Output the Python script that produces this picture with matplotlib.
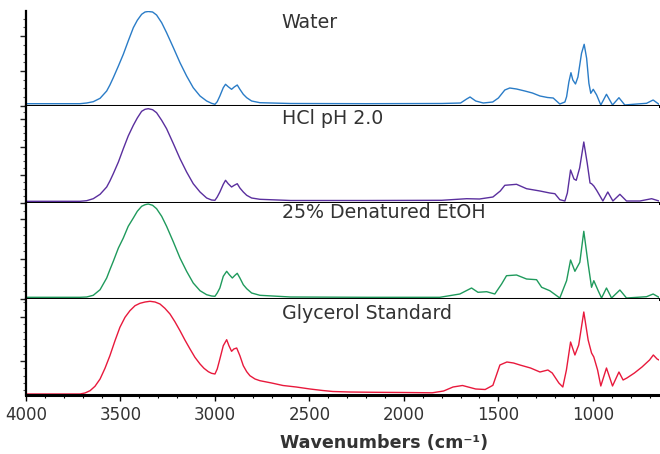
import matplotlib
matplotlib.use("Agg")
import matplotlib.pyplot as plt
from matplotlib.ticker import FixedLocator, MultipleLocator
import numpy as np

# ---- spectra (wavenumber in cm-1, absorbance in arbitrary units) ----
# O-H / C-H stretch region shares one wavenumber grid
oh_wn = [3714, 3679, 3644, 3608, 3573, 3556, 3538, 3511, 3485, 3459, 3432, 3411, 3388, 3370,
         3353, 3330, 3309, 3282, 3256, 3220, 3185, 3150, 3115, 3079, 3044, 3018, 3000, 2988,
         2974, 2956, 2944, 2930, 2912, 2898, 2882, 2868, 2850, 2832, 2806, 2762]

water_wn = [4000, 3850] + oh_wn + [
    2600, 2200, 1800, 1700, 1668, 1650, 1620, 1580, 1530, 1500, 1466, 1440, 1404, 1360,
    1320, 1280, 1240, 1210, 1175, 1148, 1139, 1127, 1116, 1106, 1092, 1079, 1060, 1046,
    1033, 1021, 1011, 998, 980, 958, 928, 896, 862, 831, 787, 716, 681, 650]
water_abs = [0.023, 0.023,
             0.023, 0.03, 0.043, 0.077, 0.15, 0.21, 0.283, 0.40, 0.517, 0.65, 0.783, 0.857,
             0.917, 0.94, 0.945, 0.94, 0.91, 0.833, 0.733, 0.583, 0.433, 0.30, 0.183, 0.10,
             0.05, 0.027, 0.017, 0.043, 0.10, 0.183, 0.217, 0.193, 0.167, 0.19, 0.21, 0.167,
             0.117, 0.083, 0.05, 0.033,
             0.025, 0.023, 0.025, 0.03, 0.07, 0.09, 0.05, 0.03, 0.04, 0.08, 0.16, 0.18, 0.17,
             0.15, 0.13, 0.10, 0.085, 0.08, 0.02, 0.04, 0.093, 0.24, 0.333, 0.26, 0.22, 0.29,
             0.527, 0.617, 0.477, 0.227, 0.127, 0.167, 0.11, 0.01, 0.117, 0.01, 0.083, 0.01,
             0.017, 0.027, 0.06, 0.017]

hcl_wn = [4000, 3800] + oh_wn + [
    2600, 2200, 1800, 1668, 1600, 1529, 1490, 1466, 1404, 1351, 1280, 1228, 1201, 1175,
    1148, 1135, 1118, 1100, 1088, 1070, 1048, 1030, 1015, 1007, 995, 980, 947, 921, 894,
    857, 822, 751, 689, 650]
hcl_abs = [0.017, 0.017,
           0.017, 0.023, 0.043, 0.087, 0.16, 0.22, 0.293, 0.41, 0.543, 0.67, 0.777, 0.85,
           0.917, 0.937, 0.943, 0.933, 0.903, 0.827, 0.743, 0.593, 0.443, 0.31, 0.193, 0.11,
           0.05, 0.03, 0.027, 0.06, 0.11, 0.187, 0.227, 0.193, 0.16, 0.177, 0.193, 0.15, 0.11,
           0.077, 0.05, 0.037,
           0.025, 0.025, 0.027, 0.043, 0.04, 0.06, 0.12, 0.177, 0.187, 0.143, 0.12, 0.10,
           0.093, 0.033, 0.02, 0.10, 0.33, 0.24, 0.227, 0.35, 0.61, 0.40, 0.20, 0.193, 0.17,
           0.127, 0.02, 0.11, 0.02, 0.087, 0.02, 0.02, 0.043, 0.02]

etoh_oh_wn = [3714, 3679, 3644, 3608, 3573, 3556, 3538, 3511, 3485, 3459, 3432, 3411, 3388,
              3370, 3353, 3330, 3309, 3282, 3256, 3220, 3185, 3150, 3115, 3079, 3044, 3018,
              3000, 2988, 2974, 2956, 2938, 2924, 2908, 2894, 2882, 2868, 2850, 2832, 2806,
              2762]
etoh_wn = [4000, 3800] + etoh_oh_wn + [
    2600, 2200, 1810, 1704, 1642, 1608, 1562, 1519, 1483, 1457, 1404, 1351, 1298, 1271,
    1228, 1175, 1139, 1118, 1095, 1069, 1048, 1025, 1007, 995, 972, 954, 928, 901, 857,
    822, 716, 681, 650]
etoh_abs = [0.017, 0.017,
            0.017, 0.02, 0.037, 0.093, 0.21, 0.293, 0.377, 0.51, 0.61, 0.727, 0.81, 0.877,
            0.927, 0.943, 0.95, 0.937, 0.903, 0.827, 0.727, 0.57, 0.41, 0.277, 0.16, 0.083,
            0.043, 0.03, 0.027, 0.06, 0.11, 0.227, 0.277, 0.243, 0.21, 0.237, 0.257, 0.21,
            0.143, 0.103, 0.06, 0.037,
            0.02, 0.017, 0.017, 0.05, 0.11, 0.067, 0.073, 0.05, 0.15, 0.233, 0.24, 0.20,
            0.193, 0.117, 0.083, 0.01, 0.183, 0.39, 0.277, 0.367, 0.677, 0.35, 0.117, 0.183,
            0.083, 0.01, 0.11, 0.01, 0.09, 0.01, 0.023, 0.05, 0.017]

glycerol_wn = [4000, 3800, 3714, 3688, 3661, 3635, 3608, 3582, 3556, 3529, 3503, 3476, 3450,
               3423, 3397, 3370, 3344, 3317, 3291, 3265, 3238, 3212, 3185, 3159, 3132, 3106,
               3079, 3058, 3035, 3018, 3000, 2988, 2974, 2956, 2938, 2926, 2912, 2900, 2885,
               2868, 2850, 2832, 2815, 2788, 2762, 2700, 2640, 2570, 2497, 2430, 2376, 2286,
               2150, 2000, 1850, 1790, 1740, 1690, 1620, 1570, 1529, 1492, 1455, 1420, 1386,
               1330, 1280, 1238, 1215, 1180, 1159, 1140, 1118, 1095, 1075, 1048, 1025, 1007,
               995, 975, 958, 928, 896, 862, 840, 820, 780, 740, 700, 680, 660, 650]
glycerol_abs = [0.01, 0.01, 0.01, 0.02, 0.043, 0.087, 0.16, 0.267, 0.393, 0.543, 0.677,
                0.777, 0.843, 0.893, 0.917, 0.93, 0.937, 0.93, 0.91, 0.867, 0.81, 0.733,
                0.643, 0.55, 0.46, 0.377, 0.31, 0.267, 0.233, 0.217, 0.21, 0.26, 0.36, 0.493,
                0.553, 0.493, 0.437, 0.46, 0.47, 0.393, 0.293, 0.233, 0.193, 0.16, 0.143,
                0.12, 0.095, 0.08, 0.06, 0.045, 0.035, 0.03, 0.027, 0.025, 0.022, 0.04, 0.08,
                0.095, 0.06, 0.055, 0.097, 0.30, 0.33, 0.32, 0.30, 0.27, 0.23, 0.25, 0.22,
                0.12, 0.08, 0.25, 0.53, 0.40, 0.50, 0.83, 0.55, 0.42, 0.38, 0.25, 0.09, 0.27,
                0.09, 0.23, 0.15, 0.17, 0.22, 0.28, 0.35, 0.40, 0.36, 0.35]

names = ["Water", "HCl pH 2.0", "25% Denatured EtOH", "Glycerol Standard"]
spectra = [(water_wn, water_abs), (hcl_wn, hcl_abs), (etoh_wn, etoh_abs),
           (glycerol_wn, glycerol_abs)]
colors = ["#2a7cc7", "#5a2f9e", "#1f9a5c", "#e8193c"]

# panel geometry (figure pixels from the top edge)
W, H = 660, 454
edges = [11, 106, 203, 299, 395]
left_px, right_px = 26, 659
# y extent of each panel and its tick positions
ytops = [0.95, 0.97, 0.96, 0.96]
major_ticks = [[0, 0.35, 0.70], [0, 0.28, 0.56, 0.84], [0, 0.40, 0.80], [0.34, 0.78]]
minor_steps = [0.0875, 0.07, 0.08, 0.44 / 6]
minor_offsets = [0, 0, 0, 0.34]
text_y = [0.884, 0.876, 0.896, 0.844]

fig = plt.figure(figsize=(W / 100, H / 100), dpi=100)
axes = []
for i, (wn, ab) in enumerate(spectra):
    top, bot = edges[i], edges[i + 1]
    ax = fig.add_axes([left_px / W, 1 - bot / H, (right_px - left_px) / W, (bot - top) / H])
    ax.plot(wn, ab, color=colors[i], lw=1.0, solid_joinstyle="round")
    ax.set_xlim(4000, 650)
    ax.set_ylim(0, ytops[i])
    for s in ("top", "right"):
        ax.spines[s].set_visible(False)
    ax.spines["bottom"].set_linewidth(2.2)
    ax.spines["left"].set_linewidth(1.6)
    ax.spines["bottom"].set_zorder(5)
    ax.yaxis.set_major_locator(FixedLocator(major_ticks[i]))
    mins = np.arange(minor_offsets[i] - 10 * minor_steps[i], ytops[i], minor_steps[i])
    ax.yaxis.set_minor_locator(FixedLocator([m for m in mins if 0 <= m <= ytops[i]]))
    ax.tick_params(axis="y", which="major", length=4, width=1.0, labelleft=False,
                   direction="out", color="#222222")
    ax.tick_params(axis="y", which="minor", length=2, width=0.8, color="#555555")
    ax.xaxis.set_major_locator(MultipleLocator(500))
    ax.xaxis.set_minor_locator(MultipleLocator(100))
    if i < 3:
        ax.tick_params(axis="x", which="both", length=0, labelbottom=False)
    else:
        ax.tick_params(axis="x", which="major", length=4, width=1.0, labelsize=12,
                       labelcolor="#333333", pad=4)
        ax.tick_params(axis="x", which="minor", length=2, width=0.8)
    ax.text(0.404, text_y[i], names[i], transform=ax.transAxes, fontsize=13.7,
            color="#333333", va="center", ha="left")
    axes.append(ax)

fig.text(384 / W, 1 - 443 / H, "Wavenumbers (cm⁻¹)", ha="center", va="center",
         fontsize=12.6, fontweight="bold", color="#333333")

fig.savefig("out.png", dpi=100)
